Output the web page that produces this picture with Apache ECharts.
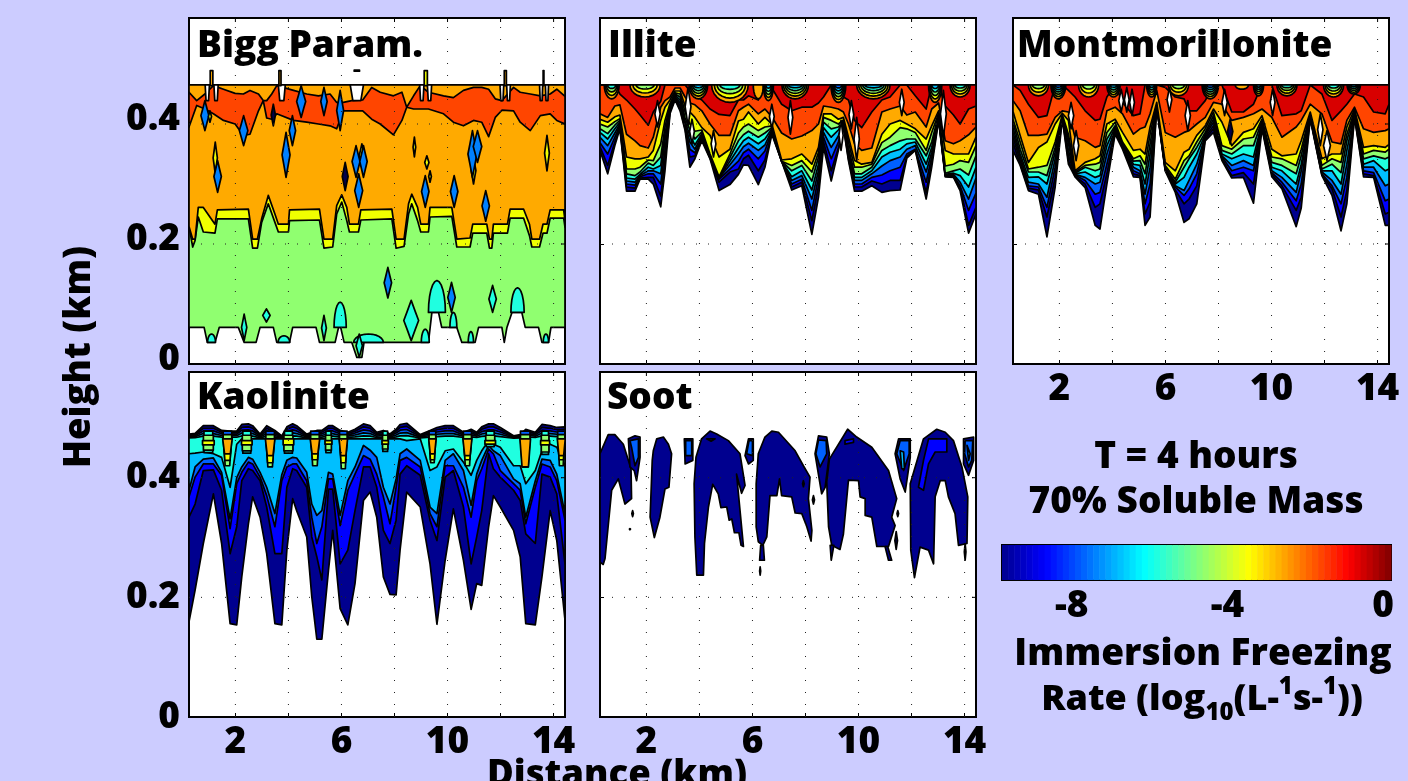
<!DOCTYPE html>
<html><head><meta charset="utf-8">
<style>html,body{margin:0;padding:0;background:#ccccff;overflow:hidden}#c{width:1408px;height:781px}</style>
<script src="https://cdn.jsdelivr.net/npm/echarts@6/dist/echarts.min.js"></script>
</head><body><div id="c"></div>
<script>
// ---- tick values ----
const distanceTicks=[2,4,6,8,10,12,14];
const distanceLabels=[2,6,10,14];
const heightTicks=[0.2,0.4];
const heightLabels=[0,0.2,0.4];
const colorbarTicks=[-8,-6,-4,-2];
const colorbarLabels=[-8,-4,0];
// heights in metres, distance in km. Lower boundary of each band:
// distance, navy, blue, mid blue, light blue, cyan, green, yellow, orange, orange-red, dark red
const illiteRows=[
[.25,356,362,369,378,386,392,400,408,417,465],[.54,317,331,350,364,375,384,395,403,411,465],
[.81,364,370,378,385,392,398,404,412,430,465],[1.0,392,394,397,400,403,406,409,415,432,450],
[1.25,288,295,300,305,310,317,325,345,383,440],[1.57,288,293,298,303,308,314,325,342,372,425],
[1.76,308,310,312,314,316,320,328,342,364,415],[2.07,308,311,317,322,328,335,340,345,360,398],
[2.26,300,311,317,322,325,331,339,356,378,420],[2.54,262,280,300,317,331,345,367,406,428,438],
[2.7,322,339,356,372,383,395,406,428,439,465],[2.89,417,420,422,425,428,431,434,440,445,465],
[3.08,440,442,444,446,448,450,452,455,460,465],[3.27,422,425,430,435,440,445,450,455,460,465],
[3.46,389,392,396,400,405,410,420,430,445,465],[3.64,328,345,358,370,380,390,400,420,435,455],
[3.83,342,347,352,358,365,375,388,411,432,448],[4.09,372,375,378,381,384,387,390,394,422,440],
[4.4,342,343,344,345,346,347,350,381,400,425],[4.74,289,303,308,310,311,311,312,345,381,416],
[5.15,299,320,325,332,338,344,350,358,381,414],[5.47,316,325,338,350,360,372,385,405,422,440],
[5.66,332,342,352,362,372,382,395,408,428,440],[5.85,331,348,358,368,378,388,400,420,433,447],
[6.22,299,322,342,356,367,378,389,400,417,440],[6.47,328,340,355,365,375,385,395,411,425,465],
[6.73,383,385,388,390,392,394,397,400,412,460],[7.1,338,338,338,338,338,338,338,340,385,433],
[7.48,290,295,300,306,312,322,331,342,375,422],[7.86,297,303,308,314,322,331,339,350,380,428],
[8.24,216,239,256,275,290,305,320,333,389,428],[8.49,278,297,311,322,333,345,353,361,400,435],
[8.68,361,370,378,386,394,403,411,417,430,445],[8.97,305,322,342,361,378,392,406,417,428,465],
[9.24,356,360,370,380,390,395,400,408,425,465],[9.43,395,397,399,401,403,405,407,411,420,445],
[9.62,339,342,346,350,355,360,370,378,400,440],[9.85,288,295,300,306,311,317,328,339,367,406],
[10.12,288,295,300,306,311,317,328,333,356,394],[10.5,297,305,311,317,322,328,333,336,360,420],
[10.88,286,300,315,330,345,356,369,383,420,440],[11.19,289,306,322,339,353,364,378,400,425,445],
[11.57,290,306,328,345,358,372,394,406,430,465],[11.82,343,346,350,358,367,375,392,400,415,465],
[12.14,356,357,358,364,370,375,386,392,420,447],[12.55,275,286,303,320,333,347,356,375,395,425],
[12.76,328,336,345,353,361,370,386,397,425,465],[13.02,406,408,410,412,414,416,418,422,435,465],
[13.27,312,313,314,315,316,318,330,356,372,430],[13.58,311,312,314,316,318,322,333,350,367,415],
[13.83,289,295,297,303,314,325,339,350,372,400],[14.15,218,231,256,275,295,315,336,350,382,425],
[14.43,250,261,285,310,328,347,364,378,395,430]];
const montmorilloniteRows=[
[.25,356,369,378,386,394,403,408,421,439,465],[.52,331,333,339,345,350,358,370,381,422,456],
[.83,289,293,297,303,311,320,325,336,381,433],[1.21,283,290,295,300,312,320,328,361,381,411],
[1.53,212,245,261,278,300,314,331,370,383,414],[1.84,295,311,328,342,353,361,370,400,411,465],
[2.11,408,410,411,412,413,415,416,418,422,465],[2.34,333,339,347,356,367,375,383,406,420,456],
[2.59,312,313,315,316,317,318,320,322,378,445],[2.97,294,300,306,311,320,328,331,336,372,422],
[3.35,231,261,283,300,311,322,333,342,361,406],[3.53,225,267,286,303,314,325,336,347,364,408],
[3.79,300,317,333,350,364,375,386,400,422,445],[4.1,383,386,389,392,395,397,403,408,428,465],
[4.38,358,361,362,364,366,367,370,386,417,436],[4.79,312,317,322,328,333,338,342,356,383,414],
[5.04,311,314,317,322,331,339,347,358,392,417],[5.23,231,250,267,283,300,317,333,350,395,465],
[5.42,245,270,300,328,350,367,383,395,417,465],[5.67,428,429,430,431,432,433,435,436,456,465],
[5.99,322,323,325,326,327,328,331,336,386,461],[6.37,286,290,295,297,300,303,308,322,378,445],
[6.7,236,267,281,289,311,328,339,353,386,442],[6.89,242,275,292,306,328,342,347,358,389,422],
[7.18,267,297,317,333,350,361,370,381,400,422],[7.5,372,375,378,381,383,386,392,397,411,439],
[7.81,386,392,397,403,408,414,420,425,436,465],[8.13,339,342,345,347,350,356,364,403,433,465],
[8.5,310,314,322,331,342,350,358,364,406,420],[8.94,311,319,328,339,350,364,375,386,411,420],
[9.32,268,300,322,331,345,364,378,392,417,433],[9.64,392,395,397,400,403,406,408,414,425,465],
[10.01,312,316,319,322,328,336,345,358,411,465],[10.39,292,297,303,311,322,331,342,347,378,414],
[10.93,229,256,272,286,300,317,331,350,395,417],[11.12,260,278,300,322,333,347,358,372,406,422],
[11.46,408,410,411,412,414,416,418,420,433,465],[11.9,314,315,317,320,322,325,331,342,417,450],
[12.28,281,292,297,306,322,333,342,350,370,406],[12.62,222,245,267,283,300,319,336,350,367,422],
[12.84,267,289,311,333,356,372,383,395,406,433],[13.13,411,412,414,416,418,420,422,425,428,450],
[13.47,312,317,322,328,333,342,350,361,392,445],[13.85,311,314,319,328,339,347,356,364,386,420],
[14.29,231,250,272,297,322,342,353,361,389,417],[14.43,231,253,275,300,325,345,358,366,392,433]];
// distance, navy, blue, mid blue, light blue, cyan lower boundaries, then the upper contour
const kaoliniteRows=[
[.25,159,334,368,379,440,473],[.48,212,356,401,418,441,474],[.79,290,412,423,431,443,487],[1.17,373,413,423,433,440,487],
[1.48,290,379,404,409,434,479],[1.8,156,273,315,331,384,478],[2.05,154,318,390,400,456,478],[2.24,234,395,409,418,465,489],
[2.49,323,415,426,434,465,490],[2.65,368,412,423,431,465,487],[2.93,334,395,401,409,465,473],[3.18,273,351,370,384,465,487],
[3.49,156,273,318,340,465,479],[3.75,154,273,395,405,465,470],[3.94,279,384,418,429,465,485],[4.16,365,415,423,434,465,490],
[4.31,345,412,423,433,465,487],[4.69,301,384,395,409,465,473],[4.88,201,301,334,356,465,476],[5.07,130,268,290,337,465,479],
[5.26,130,229,318,345,465,479],[5.51,245,381,398,409,465,487],[5.67,312,381,398,406,465,487],[5.95,181,256,320,337,465,479],
[6.24,154,279,379,395,465,476],[6.51,223,345,406,418,465,481],[6.83,362,418,437,454,465,490],[7.08,376,418,431,446,465,487],
[7.33,334,384,406,434,465,476],[7.58,234,312,368,384,465,479],[7.83,205,290,323,356,465,473],[8.06,204,329,384,398,465,481],
[8.21,279,406,429,440,465,489],[8.46,376,420,434,448,462,491],[8.97,351,404,418,429,465,472],[9.34,256,329,340,351,412,479],
[9.6,155,295,318,340,418,484],[9.91,262,401,420,429,445,487],[10.22,348,412,420,440,448,487],[10.6,262,351,384,412,426,476],
[10.89,180,256,334,354,404,481],[11.1,223,301,395,406,429,476],[11.29,220,345,415,429,445,485],[11.55,318,440,448,454,462,490],
[11.73,370,415,440,445,456,490],[11.99,351,401,412,437,451,484],[12.49,312,379,390,398,420,470],[12.74,268,362,379,390,420,472],
[12.95,156,306,323,334,390,481],[13.31,154,290,384,395,412,476],[13.56,234,406,423,431,445,489],[13.87,345,401,418,429,456,487],
[14.12,295,373,395,406,451,484],[14.43,162,256,329,340,418,485]];
// distance, half width, green bottom, yellow bottom, orange bottom
const kaoliniteCones=[[1.7,.18,420,429,440],[3.31,.18,418,425,437],[5.0,.18,420,430,440],[6.07,.16,415,425,437],
[9.43,.14,425,430,440],[10.75,.17,420,430,437],[12.93,.2,418,418,418],[14.29,.15,420,430,437]];
// distance, half width, yellow top, yellow bottom, green bottom
const kaoliniteStripes=[[.98,.22,462,455,446],[2.43,.2,462,455,445],[4.0,.2,465,455,445],[5.51,.13,462,456,446],
[7.65,.12,462,456,448],[11.61,.2,462,456,456],[13.68,.17,462,455,443]];
// Bigg parameterisation
const biggDistance=[.25,.39,.48,.6,.79,1.23,1.32,2.49,2.65,2.83,2.99,3.24,3.49,3.62,4.0,4.04,5.17,5.34,5.67,5.82,6.01,6.2,6.3,6.64,6.73,7.9,8.06,8.36,8.53,8.65,8.87,8.99,9.28,9.34,10.16,10.35,10.85,10.95,11.48,11.58,11.67,11.73,12.26,12.36,12.87,13.09,13.18,13.47,13.6,13.75,13.87,14.38,14.43];
const biggYellowBottom=[229,195,206,245,220,218,242,242,193,193,236,267,236,220,220,239,240,193,195,250,270,239,220,220,240,242,193,196,250,267,239,220,220,245,246,195,195,218,218,193,193,218,218,243,243,214,195,195,218,218,243,243,228];
const biggOrangeBottom=[229,208,208,261,261,233,257,258,208,208,242,281,250,233,233,257,258,208,208,264,282,261,233,233,257,258,208,208,267,283,261,233,233,261,261,208,210,233,233,208,208,233,233,258,258,233,208,208,233,233,257,257,239];
const biggFloorDistance=[.25,.82,.94,1.23,1.39,2.11,2.33,2.78,2.93,3.43,3.56,4.04,4.16,5.04,5.17,5.76,5.89,5.97,6.1,6.39,6.58,6.77,6.85,9.28,9.41,9.66,9.78,10.35,10.54,11.04,11.17,12.05,12.14,12.24,12.43,12.8,12.93,13.43,13.56,13.81,13.9,14.43];
const biggFloor=[61,61,36,36,61,61,36,36,61,61,36,36,61,61,36,36,61,61,36,36,11,11,36,36,86,86,61,61,36,36,61,61,36,61,86,86,61,61,36,36,61,61];
const biggRedDistance=[.25,.54,.85,1.17,1.55,1.99,2.3,2.55,2.87,3.05,3.18,3.37,3.56,4.19,4.69,5.13,5.57,5.82,6.07,6.39,6.8,7.14,7.46,7.96,8.28,8.46,8.72,8.97,9.28,9.85,10.22,10.6,10.98,11.29,11.55,11.8,12.05,12.49,12.74,13.12,13.5,13.87,14.12,14.43];
const biggRedBottom=[395,431,425,417,406,400,381,383,422,439,410,408,417,406,403,400,397,392,422,422,422,408,400,382,406,428,425,425,425,417,403,397,406,403,379,411,423,422,403,389,414,417,406,400];
const biggRedTop=[453,439,450,464,458,451,450,456,450,439,439,450,464,456,450,447,450,436,436,439,440,461,453,447,453,428,447,464,453,447,444,456,461,461,458,442,439,461,453,450,447,450,458,446];
// spots: distance, half width, top, bottom, band index
const biggSpots=[[1.24,.08,370,317,6],[.85,.15,439,389,2],[1.04,.06,422,403,6],[2.31,.16,414,364,2],[3.43,.08,433,397,0],[4.15,.12,414,364,2],[4.48,.17,464,411,2],[5.34,.12,461,414,2],[5.95,.13,456,389,2],[3.91,.15,386,311,2],[1.33,.14,339,286,2],[6.77,.1,367,328,6],[6.55,.15,364,311,2],[6.83,.14,364,311,2],[6.65,.15,317,261,2],[6.14,.11,336,289,0],[8.75,.05,378,345,6],[9.22,.08,347,325,6],[9.34,.05,322,303,6],[9.16,.14,314,261,2],[10.25,.14,314,261,2],[10.98,.09,345,300,6],[10.94,.17,389,311,2],[11.13,.16,389,336,2],[11.44,.14,289,238,2],[13.75,.09,381,322,6],[7.75,.14,161,110,2],[2.33,.1,83,39,4],[5.34,.09,81,39,4],[11.7,.14,131,86,4],[3.17,.14,92,70,4],[8.63,.28,106,39,4],[6.67,.12,50,11,4],[10.15,.14,136,86,2]];
const biggDomes=[[5.95,.23,103,61],[12.64,.25,127,86],[9.6,.32,139,86],[1.1,.15,50,36],[3.83,.22,47,36],[7.02,.56,50,36],[9.16,.15,58,36],[10.88,.1,54,36],[13.71,.1,50,36],[10.22,.13,86,61]];
const biggNotches=[[.94,.08,439],[1.27,.08,439],[3.75,.13,439],[6.58,.25,439],[9.03,.08,439],[9.32,.08,439],[12.05,.07,439],[12.3,.07,439],[13.53,.06,439],[13.75,.06,439]];
const biggSpikes=[[1.1,.1,489,464,7],[3.68,.08,489,464,7],[9.18,.12,489,464,6],[12.18,.08,489,464,7],[13.62,.03,489,464,7],[6.58,.2,490,488,0]];
// bowls at the cloud top: distance, half width, bottom, outer band, inner band
const illiteBowls=[[.69,.28,442,7,4],[1.95,.57,445,7,5],[3.96,.35,442,7,3],[5.15,.69,436,7,4],[6.22,.19,442,7,7],[6.6,.19,439,7,3],[7.61,.5,442,7,3],[9.24,.28,436,7,2],[10.56,.63,442,7,3],[12.89,.25,436,7,3],[13.83,.38,445,7,4]];
const montmorilloniteBowls=[[1.21,.38,447,7,5],[1.96,.28,442,7,2],[3.1,.38,445,7,5],[4.04,.25,445,7,3],[5.48,.19,445,7,3],[6.49,.38,447,7,5],[7.69,.31,442,7,2],[8.88,.25,458,7,7],[9.51,.19,447,7,3],[10.58,.38,447,7,4],[12.34,.38,445,7,4],[13.1,.25,450,7,3]];
const illiteSpots=[[2.42,.1,439,395,-1],[3.57,.11,461,397,-1],[3.72,.09,408,367,-1],[4.53,.09,389,345,-1],[6.73,.09,433,392,-1],[7.43,.09,439,383,-1],[9.34,.08,406,356,-1],[9.73,.09,439,392,-1],[9.93,.1,411,339,-1],[11.63,.09,458,414,-1],[13.2,.11,456,378,-1]];
const montmorilloniteSpots=[[2.44,.1,436,392,-1],[2.63,.1,389,339,-1],[4.33,.09,458,420,-1],[4.54,.09,461,420,-1],[4.74,.09,458,414,-1],[6.15,.09,461,420,-1],[6.84,.1,439,389,-1],[8.23,.1,458,414,-1],[10.04,.09,458,414,-1],[11.84,.1,417,364,-1],[12.09,.13,389,339,-1],[8.44,.1,408,367,0]];
// Soot patches as distance, height pairs
const sootNavy=[
[.25,440,.56,472,.81,472,1.13,456,1.42,415,1.44,365,1.19,356,.94,398,.69,379,.44,265,.37,255,.25,259],
[2.22,429,2.26,445,2.39,465,2.64,468,2.83,456,2.95,440,2.85,384,2.7,381,2.51,334,2.3,300,2.14,334],
[3.87,434,4.08,465,4.4,478,4.65,473,5.09,462,5.53,440,5.72,387,5.59,374,5.4,406,5.66,285,5.57,287,5.49,308,5.32,308,5.22,331,5.12,329,5.03,351,4.81,350,4.71,373,4.5,389,4.34,351,4.19,290,4.15,237,3.9,237,3.83,301,3.8,390],
[6.22,440,6.47,468,6.73,478,6.98,476,7.61,445,7.92,420,8.17,401,8.11,365,8.24,312,8.21,294,8.05,318,7.86,340,7.61,341,7.48,368,7.1,370,7.02,398,6.92,370,6.66,370,6.54,301,6.39,287,6.22,293,6.14,318,6.14,390],
[6.31,287,6.27,262,6.45,262,6.41,287],
[8.9,431,9.59,481,9.93,468,10.5,451,11.13,412,11.44,365,11.25,334,11.38,320,11.13,285,10.69,285,10.5,334,10.25,337,10.25,365,10.06,368,10.0,395,9.62,396,9.43,306,9.3,280,8.99,287,8.87,318,8.8,393],
[8.93,287,8.97,262,9.07,287],[11.0,285,11.13,262,11.25,262,11.1,285],
[11.95,390,12.45,465,12.95,481,13.27,476,13.58,462,13.9,418,14.12,368,14.09,290,13.77,287,13.64,340,13.39,368,13.27,395,13.08,395,12.89,368,12.83,256,12.64,279,12.32,284,12.11,233,11.97,279],
[1.32,465,1.57,470,1.76,468,1.76,434,1.63,395,1.54,412,1.38,418],
[3.43,465,3.75,465,3.75,429,3.46,423],[5.85,465,6.03,465,6.03,429,5.85,423,5.72,437],
[8.36,440,8.49,470,8.8,468,8.9,440,8.74,384,8.61,373],[11.38,440,11.51,465,11.95,465,11.95,434,11.76,376,11.57,398],
[13.96,465,14.34,468,14.34,429,14.15,404,13.96,423]];
const sootBlue=[[12.64,465,13.33,465,13.33,443,12.89,443,12.64,423,12.45,379,12.26,384,12.45,429],[4.27,465,4.59,465,4.44,461],[9.49,462,9.81,465,9.81,459,9.49,456]];
const sootMid=[[1.38,462,1.7,465,1.7,434,1.57,420,1.44,451],[3.48,462,3.71,462,3.71,437,3.48,437],[5.87,462,6.0,462,6.0,437,5.78,440],[8.49,463,8.78,462,8.8,440,8.55,418,8.39,440],[11.57,462,11.91,462,11.91,440,11.7,412,11.44,440],[14.02,462,14.31,462,14.27,429,14.15,418,14.0,440]];
const sootLight=[[11.57,445,11.7,443,11.73,415,11.63,415],[14.09,454,14.21,440,14.15,429]];
const sootSpecks=[[1.48,.03,345,335,0],[1.38,.02,315,313,0],[8.3,.04,370,356,0],[11.48,.03,345,335,0],[11.42,.05,310,280,0],[6.29,.02,251,237,0],[14.02,.03,290,262,0],[7.92,.03,395,385,0]];
// ---- styles ----
const bandColors=['#00008f','#0000ff','#0060ff','#00bfff','#20ffe0','#90ff70','#f0ff00','#ffaa00','#ff4500','#d80000'];
const spotColors={'-1':'#ffffff',0:'#00004a',2:'#0080ff',4:'#20ffe0',6:'#f0ff00',7:'#ffaa00'};
const CLOUD_TOP=465, LINE=1.7, FONT='"Open Sans"', WEIGHT='800', TEXT_SIZE=37, TICK_SIZE=37;
const pairs=a=>{const o=[];for(let i=0;i<a.length;i+=2)o.push([a[i],a[i+1]]);return o;};
const poly=(p,f,w)=>({p,f,w:w===undefined?LINE:w});
function hanging(rows,n){
  const out=[];const x0=rows[0][0],x1=rows[rows.length-1][0];
  for(let k=0;k<n;k++){out.push(poly([[x0,CLOUD_TOP]].concat(rows.map(r=>[r[0],r[k+1]]),[[x1,CLOUD_TOP]]),bandColors[k]));}
  return out;
}
function lens(s){const[x,h,t,b,c]=s;const m=(t+b)/2;return poly([[x,t],[x+h*.55,m+(t-b)*.22],[x+h,m],[x+h*.55,m-(t-b)*.22],[x,b],[x-h*.55,m-(t-b)*.22],[x-h,m],[x-h*.55,m+(t-b)*.22]],spotColors[c]);}
function ellipse(x,h,flat,edge,col){const p=[];for(let i=0;i<=12;i++){const a=Math.PI*i/12;p.push([x-h*Math.cos(a),flat+(edge-flat)*Math.sin(a)]);}return poly(p,col);}
function bowls(list){const o=[];list.forEach(([x,h,b,outer,inner])=>{const n=outer-inner+1;for(let k=outer;k>=inner;k--){const t=(k-inner+1)/n;o.push(ellipse(x,h*(.4+.6*t),CLOUD_TOP,CLOUD_TOP-(CLOUD_TOP-b)*t,bandColors[k]));}});return o;}
function cone(x,h,b,col,top){return poly([[x-h,top],[x+h,top],[x+h*.6,b],[x-h*.6,b]],col);}
function rect(x,h,t,b,col){return poly([[x-h,t],[x+h,t],[x+h,b],[x-h,b]],col);}
// ---- panels ----
const illitePolys=hanging(illiteRows,10).concat(bowls(illiteBowls),illiteSpots.map(lens));
const montPolys=hanging(montmorilloniteRows,10).concat(bowls(montmorilloniteBowls),montmorilloniteSpots.map(lens));
function kaolinitePolys(){
  const o=[];const R=kaoliniteRows;
  for(let k=0;k<5;k++){
    const up=R.map(r=>[r[0],r[6]-(r[6]-CLOUD_TOP)*k/5]);
    const low=R.map(r=>[r[0],r[k+1]]).reverse();
    o.push(poly(up.concat(low),bandColors[k]));
  }
  kaoliniteStripes.forEach(([x,h,t,b,g])=>{
    o.push(rect(x,h*.75,478,g-4,bandColors[4]));
    o.push(rect(x,h*.85,471,g,bandColors[5]));
    o.push(rect(x,h,t,b,bandColors[6]));
  });
  kaoliniteCones.forEach(([x,h,g,y,or])=>{
    o.push(rect(x,h*.9,478,CLOUD_TOP,bandColors[2]));
    o.push(rect(x,h*.9,472,CLOUD_TOP,bandColors[5]));
    o.push(cone(x,h*.8,g,bandColors[5],CLOUD_TOP));
    o.push(cone(x,h*.9,y,bandColors[6],CLOUD_TOP));
    o.push(cone(x,h,or,bandColors[7],CLOUD_TOP));
  });
  return o;
}
function biggPolys(){
  const o=[];
  o.push(poly([[.25,CLOUD_TOP],[14.43,CLOUD_TOP]].concat(biggFloorDistance.map((x,i)=>[x,biggFloor[i]]).reverse()),bandColors[5]));
  biggDomes.forEach(([x,h,t,b])=>o.push(ellipse(x,h,b,t,bandColors[4])));
  o.push(poly([[.25,CLOUD_TOP],[14.43,CLOUD_TOP]].concat(biggDistance.map((x,i)=>[x,biggYellowBottom[i]]).reverse()),bandColors[6]));
  o.push(poly([[.25,CLOUD_TOP],[14.43,CLOUD_TOP]].concat(biggDistance.map((x,i)=>[x,biggOrangeBottom[i]]).reverse()),bandColors[7]));
  o.push(poly(biggRedDistance.map((x,i)=>[x,biggRedTop[i]]).concat(biggRedDistance.map((x,i)=>[x,biggRedBottom[i]]).reverse()),bandColors[8]));
  biggNotches.forEach(([x,h,b])=>o.push(cone(x,h,b,'#ffffff',CLOUD_TOP)));
  biggSpikes.forEach(([x,h,t,b,c])=>o.push(poly([[x-h*.5,t],[x+h*.5,t],[x+h*.5,b],[x-h*.5,b]],spotColors[c])));
  biggSpots.forEach(s=>o.push(lens(s)));
  return o;
}
function sootPolys(){
  const o=[];
  sootNavy.forEach(a=>o.push(poly(pairs(a),bandColors[0])));
  sootBlue.forEach(a=>o.push(poly(pairs(a),bandColors[1])));
  sootMid.forEach(a=>o.push(poly(pairs(a),bandColors[2])));
  sootLight.forEach(a=>o.push(poly(pairs(a),bandColors[3])));
  sootSpecks.forEach(s=>o.push(lens(s)));
  return o;
}
const panels=[
 {l:189,t:18,h:346,polys:biggPolys(),xl:false,yl:true,up:true},
 {l:600,t:18,h:346,polys:illitePolys,xl:false,yl:false,up:true},
 {l:1013,t:18,h:346,polys:montPolys,xl:true,yl:false,up:true},
 {l:189,t:372,h:345,polys:kaolinitePolys(),xl:true,yl:true,up:false},
 {l:600,t:372,h:345,polys:sootPolys(),xl:true,yl:false,up:false}
];
const tickFont={color:'#000',fontFamily:FONT,fontWeight:WEIGHT,fontSize:TICK_SIZE};
const grids=[],xAxes=[],yAxes=[],series=[];
panels.forEach((P,i)=>{
  grids.push({left:P.l,top:P.t,width:376,height:P.h,show:true,backgroundColor:'#fff',borderColor:'#000',borderWidth:2});
  xAxes.push({type:'value',gridIndex:i,min:.25,max:14.43,
    axisLine:{show:true,lineStyle:{color:'#000',width:2}},
    axisTick:{show:true,inside:true,length:4,customValues:distanceTicks,lineStyle:{color:'#000'}},
    axisLabel:Object.assign({show:P.xl,customValues:distanceLabels,margin:7},tickFont),splitLine:{show:false}});
  yAxes.push({type:'value',gridIndex:i,min:0,max:.5767,
    axisLine:{show:true,lineStyle:{color:'#000',width:2}},
    axisTick:{show:true,inside:true,length:4,customValues:[0].concat(heightTicks),lineStyle:{color:'#000'}},
    axisLabel:Object.assign({show:P.yl,customValues:heightLabels,margin:9},P.up?{verticalAlign:'bottom',lineHeight:9}:{},tickFont),splitLine:{show:false}});
  const items=P.polys.concat(
    distanceTicks.map(d=>({line:[[d,0],[d,576.7]]})),
    heightTicks.map(h=>({line:[[.25,h*1000],[14.43,h*1000]]})),
    heightTicks.map(h=>({tick:[[14.28,h*1000],[14.43,h*1000]]})),
    distanceTicks.map(d=>({tick:[[d,576.7],[d,570]]})));
  series.push({type:'custom',xAxisIndex:i,yAxisIndex:i,clip:true,silent:true,animation:false,
    data:items.map((_,k)=>[k]),encode:{x:[],y:[]},
    renderItem:(params,api)=>{
      const it=items[params.dataIndex];
      if(it.line){return{type:'polyline',shape:{points:it.line.map(q=>api.coord([q[0],q[1]/1000]))},style:{stroke:'#222',lineWidth:1,fill:null,lineDash:[1,11]}};}
      if(it.tick){return{type:'polyline',shape:{points:it.tick.map(q=>api.coord([q[0],q[1]/1000]))},style:{stroke:'#000',lineWidth:1,fill:null}};}
      return{type:'polygon',shape:{points:it.p.map(q=>api.coord([q[0],q[1]/1000]))},style:{fill:it.f,stroke:'#000',lineWidth:it.w,lineJoin:'round'}};
    }});
});
// ---- colour bar ----
const jetStops=[[0,0,0,143],[.111,0,0,255],[.365,0,255,255],[.5,128,255,128],[.635,255,255,0],[.889,255,0,0],[1,128,0,0]];
function jet(t){for(let i=1;i<jetStops.length;i++){if(t<=jetStops[i][0]){const a=jetStops[i-1],b=jetStops[i],f=(t-a[0])/(b[0]-a[0]);return'rgb('+[1,2,3].map(k=>Math.round(a[k]+(b[k]-a[k])*f)).join(',')+')';}}return'rgb(128,0,0)';}
const colorbarCells=[];for(let i=0;i<64;i++)colorbarCells.push([-10+i*10/64,-10+(i+1)*10/64]);
grids.push({left:1002,top:545,width:389,height:35,show:true,borderColor:'#000',borderWidth:2});
xAxes.push({type:'value',gridIndex:5,min:-10,max:0,
  axisLine:{show:true,lineStyle:{color:'#000',width:2}},
  axisTick:{show:true,inside:true,length:4,customValues:colorbarTicks,lineStyle:{color:'#000'}},
  axisLabel:Object.assign({customValues:colorbarLabels,margin:8,padding:[0,16,0,0]},tickFont),splitLine:{show:false}});
yAxes.push({type:'value',gridIndex:5,min:0,max:1,show:false});
series.push({type:'custom',xAxisIndex:5,yAxisIndex:5,silent:true,animation:false,data:colorbarCells.map((_,k)=>[k]),encode:{x:[],y:[]},
  renderItem:(params,api)=>{const c=colorbarCells[params.dataIndex];const a=api.coord([c[0],1]),b=api.coord([c[1],0]);
    return{type:'rect',shape:{x:a[0],y:a[1],width:b[0]-a[0]+.5,height:b[1]-a[1]},style:{fill:jet((params.dataIndex+.5)/64)}};}});
// ---- text ----
const txt=(text,x,y,size,align,extra)=>Object.assign({type:'text',z:20,x,y,style:{text,fill:'#000',font:WEIGHT+' '+size+'px '+FONT,textAlign:align||'left',textVerticalAlign:'middle'}},extra||{});
const rateText=txt('Rate (log{sub|10}(L-{sup|1}s-{sup|1}))',1202,700,36,'center');
rateText.style.rich={sub:{font:WEIGHT+' 24px '+FONT,verticalAlign:'bottom',fill:'#000',lineHeight:50,padding:[14,0,0,0]},sup:{font:WEIGHT+' 24px '+FONT,verticalAlign:'top',fill:'#000',lineHeight:50,padding:[0,0,14,0]}};
const texts=[
 txt('Bigg Param.',197,46,TEXT_SIZE),txt('Illite',608,46,TEXT_SIZE),txt('Montmorillonite',1017,46,TEXT_SIZE),
 txt('Kaolinite',197,398,TEXT_SIZE),txt('Soot',607,398,TEXT_SIZE),
 txt('T = 4 hours',1196,457,TEXT_SIZE,'center'),txt('70% Soluble Mass',1196,502,TEXT_SIZE,'center'),
 txt('Immersion Freezing',1203,654,TEXT_SIZE,'center'),rateText,
 txt('Distance (km)',617,776,36.5,'center'),
 txt('Height (km)',80,357,36.5,'center',{rotation:Math.PI/2})
];
const chart=echarts.init(document.getElementById('c'),null,{renderer:'canvas'});
chart.setOption({animation:false,backgroundColor:'#ccccff',grid:grids,xAxis:xAxes,yAxis:yAxes,series,graphic:{elements:texts}});
</script></body></html>
